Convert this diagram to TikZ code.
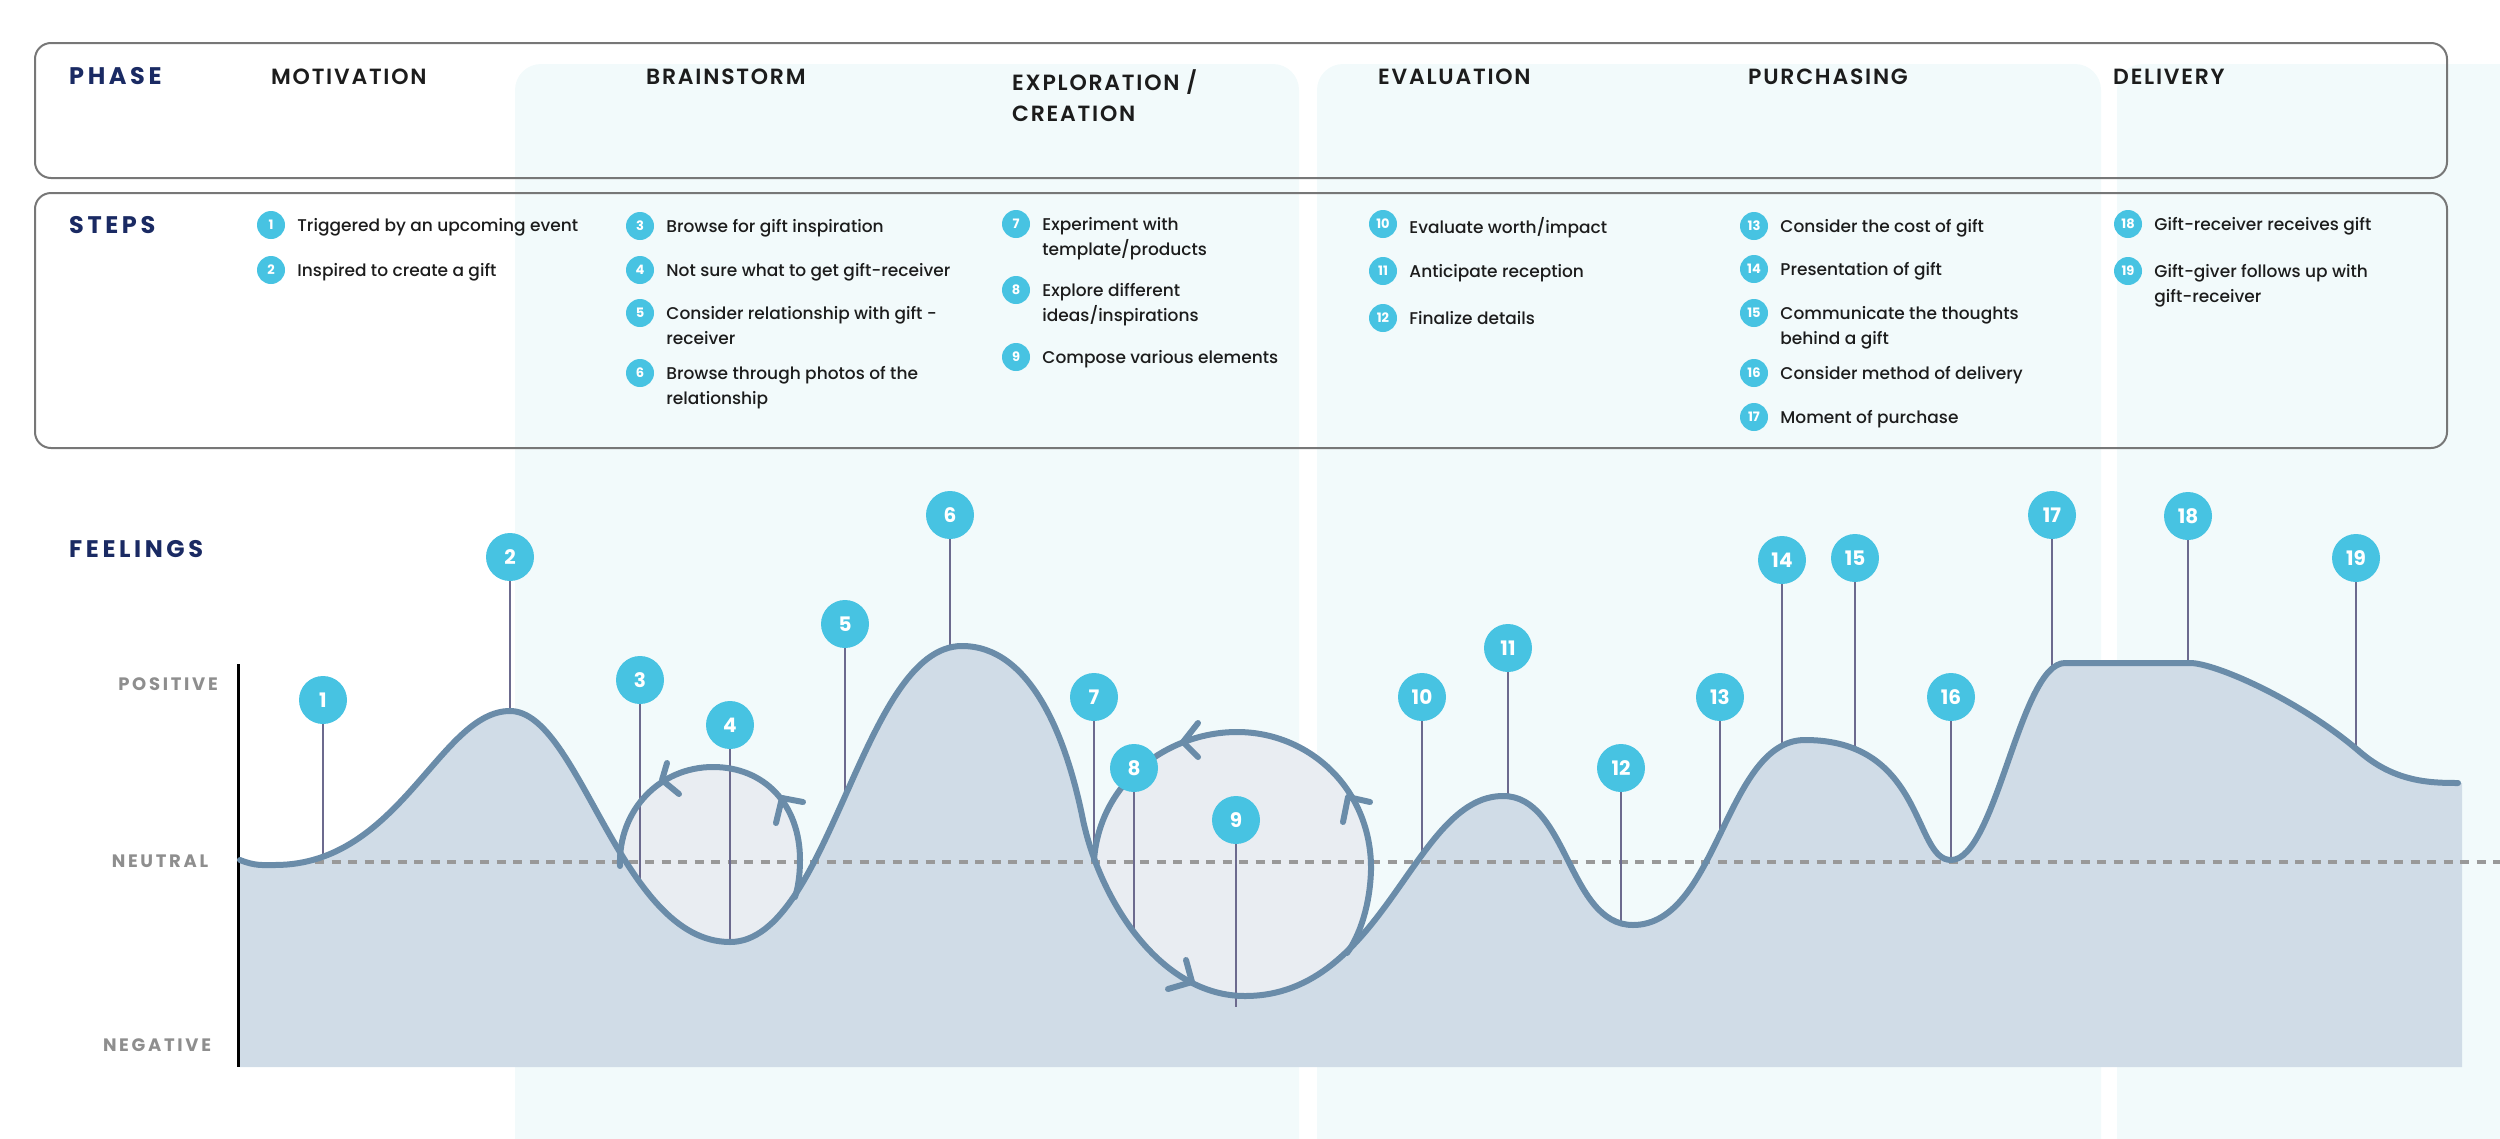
\documentclass[tikz,border=0pt]{standalone}
\usepackage{fontspec}
\setmainfont{Poppins}[UprightFont=* Medium,BoldFont=* Bold]
\newfontfamily\headfont{Poppins}[LetterSpace=15]
\newfontfamily\phasefont{Poppins}[UprightFont=* SemiBold,LetterSpace=8]
\usetikzlibrary{positioning}

\definecolor{navy}{HTML}{1A2A63}
\definecolor{ink}{HTML}{1C1C1C}
\definecolor{colfill}{HTML}{F2FAFB}
\definecolor{areafill}{HTML}{D0DCE7}
\definecolor{loopfill}{HTML}{E9EDF2}
\definecolor{curvecol}{HTML}{6A8CA9}
\definecolor{badgecol}{HTML}{47C3E2}
\definecolor{stemcol}{HTML}{6C6A8E}
\definecolor{boxgray}{HTML}{777777}
\definecolor{dashgray}{HTML}{999999}
\definecolor{axisgray}{HTML}{8E8E8E}

\pgfdeclarelayer{back}
\pgfsetlayers{back,main}

\tikzstyle{column} = [fill=colfill,rounded corners=26pt]
\tikzstyle{box} = [draw=boxgray,line width=2pt,rounded corners=16pt]
\tikzstyle{heading} = [anchor=west,inner sep=0pt,text=navy,font=\headfont\bfseries\fontsize{24}{24}\selectfont]
\tikzstyle{phasename} = [anchor=west,inner sep=0pt,align=left,text=ink,font=\phasefont\fontsize{22}{31}\selectfont]
\tikzstyle{steptext} = [anchor=north west,inner sep=0pt,align=left,text=ink,font=\fontsize{17}{25}\selectfont]
\tikzstyle{badge} = [circle,fill=badgecol,text=white,minimum size=28pt,inner sep=0pt,font=\bfseries\fontsize{13}{13}\selectfont]
\tikzstyle{bigbadge} = [circle,fill=badgecol,text=white,minimum size=48pt,inner sep=0pt,font=\bfseries\fontsize{20}{20}\selectfont]
\tikzstyle{axislabel} = [inner sep=0pt,text=axisgray,font=\headfont\bfseries\fontsize{18}{18}\selectfont]
\tikzstyle{stem} = [line width=2pt,color=stemcol]
\tikzstyle{feel} = [line width=6pt,color=curvecol,line cap=round,line join=round]

% the feelings curve, from extremum to extremum
\newcommand\feelcurve{(240,860) .. controls (255,866) and (262,865) .. (275,865)
  .. controls (400,865) and (440,711) .. (510,711)
  .. controls (580,711) and (620,942) .. (730,942)
  .. controls (830,942) and (862,646) .. (962,646)
  .. controls (1030,646) and (1066,735) .. (1083,820)
  .. controls (1100,900) and (1160,996) .. (1245,996)
  .. controls (1385,996) and (1413,796) .. (1503,796)
  .. controls (1568,796) and (1568,925) .. (1633,925)
  .. controls (1718,925) and (1725,740) .. (1805,740)
  .. controls (1925,740) and (1913,860) .. (1951,860)
  .. controls (1996,860) and (2020,663) .. (2065,663)
  -- (2190,663)
  .. controls (2215,663) and (2300,700) .. (2360,752)
  .. controls (2395,782) and (2430,783) .. (2458,783)}
\newcommand\loopone{(620,866) .. controls (618,810) and (660,767) .. (713,767)
  .. controls (765,767) and (800,805) .. (800,860)
  .. controls (800,875) and (798,888) .. (795,897)}
\newcommand\looptwo{(1094,860) .. controls (1100,780) and (1170,732) .. (1237,732)
  .. controls (1310,732) and (1372,790) .. (1371,870)
  .. controls (1370,905) and (1360,935) .. (1347,953)}

\begin{document}
\begin{tikzpicture}[x=1pt,y=-1pt]
\useasboundingbox (0,0) rectangle (2500,1138);

% background columns
\begin{pgfonlayer}{back}
\fill[column] (515,1180) -- (515,64) -- (1299,64) -- (1299,1180) -- cycle;
\fill[column] (1317,1180) -- (1317,64) -- (2101,64) -- (2101,1180) -- cycle;
\fill[column] (2117,1180) -- (2117,64) -- (2560,64) -- (2560,1180) -- cycle;
\end{pgfonlayer}

% header boxes
\draw[box] (35,43) rectangle (2447,178);
\draw[box] (35,193) rectangle (2447,448);

% phases
\node[heading] (phase) at (69,76) {PHASE};
\node[phasename] (motivation) at (271,77) {MOTIVATION};
\node[phasename] (brainstorm) at (646,77) {BRAINSTORM};
\node[phasename,anchor=north west] (exploration) at (1012,69) {EXPLORATION /\\CREATION};
\node[phasename] (evaluation) at (1378,77) {EVALUATION};
\node[phasename] (purchasing) at (1748,77) {PURCHASING};
\node[phasename] (delivery) at (2113,77) {DELIVERY};

% steps
\node[heading] (steps) at (69,225) {STEPS};
\foreach \n/\bx/\y/\txt in {
    1/271/225/{Triggered by an upcoming event},
    2/271/270/{Inspired to create a gift},
    3/640/226/{Browse for gift inspiration},
    4/640/270/{Not sure what to get gift-receiver},
    5/640/313/{Consider relationship with gift -\\receiver},
    6/640/373/{Browse through photos of the\\relationship},
    7/1016/224/{Experiment with\\template/products},
    8/1016/290/{Explore different\\ideas/inspirations},
    9/1016/357/{Compose various elements},
    10/1383/224/{Evaluate worth/impact},
    11/1383/271/{Anticipate reception},
    12/1383/318/{Finalize details},
    13/1754/226/{Consider the cost of gift},
    14/1754/269/{Presentation of gift},
    15/1754/313/{Communicate the thoughts\\behind a gift},
    16/1754/373/{Consider method of delivery},
    17/1754/417/{Moment of purchase},
    18/2128/224/{Gift-receiver receives gift},
    19/2128/271/{Gift-giver follows up with\\gift-receiver}} {
    \node[badge] (s\n) at (\bx,\y) {\n};
    \node[steptext] (t\n) at ([shift={(12,-7)}]s\n.east) {\txt};
}

% feelings axis
\node[heading] (feelings) at (69,549) {FEELINGS};
\node[axislabel] (positive) at (168,684) {POSITIVE};
\node[axislabel] (neutral) at (160,861) {NEUTRAL};
\node[axislabel] (negative) at (157,1045) {NEGATIVE};

% area under the curve
\begin{pgfonlayer}{back}
\fill[loopfill] \loopone -- (795,960) -- (620,960) -- cycle;
\fill[loopfill] \looptwo -- (1347,1010) -- (1094,1010) -- cycle;
\fill[areafill] \feelcurve -- (2462,783) -- (2462,1067) -- (240,1067) -- cycle;
\draw[dashgray,line width=3.5pt,dash pattern=on 9pt off 7.5pt] (315,862) -- (2500,862);
\end{pgfonlayer}
\draw[black,line width=3pt] (238,664) -- (238,1067);

% curve and loops
\draw[feel] \feelcurve;
\draw[feel] \loopone;
\draw[feel] \looptwo;
\draw[feel] (667,763) -- (662,780) -- (679,794);
\draw[feel] (803,802) -- (782,798) -- (776,823);
\draw[feel] (1198,723) -- (1183,742) -- (1198,757);
\draw[feel] (1370,802) -- (1348,797) -- (1343,822);
\draw[feel] (1186,960) -- (1192,982) -- (1168,989);

% markers
\foreach \n/\x/\y/\e in {1/323/700/855, 2/510/557/711, 3/640/680/884, 4/730/725/942,
    5/845/624/794, 6/950/515/646, 7/1094/697/860, 8/1134/768/929, 9/1236/820/1007,
    10/1422/697/855, 11/1508/648/796, 12/1621/768/922, 13/1720/697/834, 14/1782/560/746,
    15/1855/558/750, 16/1951/697/860, 17/2052/515/668, 18/2188/516/663, 19/2356/558/749} {
    \node[bigbadge] (b\n) at (\x,\y) {\n};
    \coordinate (e\n) at (\x,\e);
    \begin{pgfonlayer}{back}
        \draw[stem] (b\n) -- (e\n);
    \end{pgfonlayer}
}

\end{tikzpicture}
\end{document}
